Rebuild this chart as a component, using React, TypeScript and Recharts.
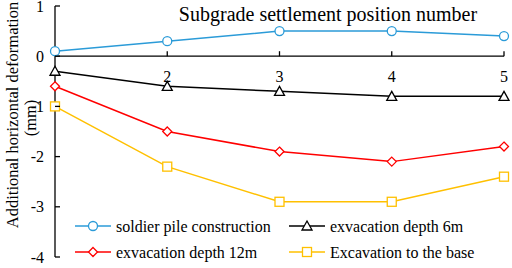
import { Customized, Line, LineChart, ReferenceLine, XAxis, YAxis } from 'recharts'

document.body.style.margin = '0'

const positions = [1, 2, 3, 4, 5]
const soldierPile = [0.1, 0.3, 0.5, 0.5, 0.4]
const depth6 = [-0.3, -0.6, -0.7, -0.8, -0.8]
const depth12 = [-0.6, -1.5, -1.9, -2.1, -1.8]
const toBase = [-1.0, -2.2, -2.9, -2.9, -2.4]
const yTicks = [-4, -3, -2, -1, 0, 1]

const series = [
  { key: 'soldierPile', name: 'soldier pile construction', color: '#2b9bd8', shape: 'circle' },
  { key: 'depth6', name: 'exvacation depth 6m', color: '#000000', shape: 'triangle' },
  { key: 'depth12', name: 'exvacation depth 12m', color: '#ff0000', shape: 'diamond' },
  { key: 'toBase', name: 'Excavation to the base', color: '#ffc000', shape: 'square' },
]

const data = positions.map((pos, i) => ({
  pos,
  soldierPile: soldierPile[i],
  depth6: depth6[i],
  depth12: depth12[i],
  toBase: toBase[i],
}))

const W = 512
const H = 268
const TOP = 6
const BOTTOM = 10
const X_AXIS_H = 1
const AXIS_W = 55
const PLOT_H = H - TOP - BOTTOM - X_AXIS_H
const ZERO_Y = TOP + (1 / 5) * PLOT_H
const FONT = '"Liberation Serif", "Times New Roman", serif'

function Marker({ cx, cy, shape, color }: any) {
  if (cx == null || cy == null) return null
  const common = { fill: '#fff', stroke: color, strokeWidth: 1.3 }
  if (shape === 'circle') return <circle cx={cx} cy={cy} r={4.5} {...common} />
  if (shape === 'triangle')
    return <path d={`M${cx},${cy - 5} L${cx + 5},${cy + 4} L${cx - 5},${cy + 4} Z`} {...common} />
  if (shape === 'diamond')
    return <path d={`M${cx},${cy - 4.5} L${cx + 4.5},${cy} L${cx},${cy + 4.5} L${cx - 4.5},${cy} Z`} {...common} />
  return <rect x={cx - 4.5} y={cy - 4.5} width={9} height={9} {...common} />
}

function XTick({ x, payload }: any) {
  if (payload.value === 1) return <g />
  return (
    <g>
      <line x1={x} x2={x} y1={ZERO_Y} y2={ZERO_Y - 5} stroke='#000' strokeWidth={1.3} />
      <text x={x} y={ZERO_Y + 26} textAnchor='middle' fontSize={16} fontFamily={FONT} fill='#000'>
        {payload.value}
      </text>
    </g>
  )
}

function YTick({ y, payload }: any) {
  return (
    <g>
      <line x1={AXIS_W} x2={AXIS_W + 5} y1={y} y2={y} stroke='#000' strokeWidth={1.3} />
      <text x={44} y={y + 5.5} textAnchor='end' fontSize={16} fontFamily={FONT} fill='#000'>
        {payload.value}
      </text>
    </g>
  )
}

function Decorations() {
  const cols = [75, 289]
  const rows = [226, 252]
  return (
    <g fontFamily={FONT} fill='#000'>
      <text x={328} y={21} textAnchor='middle' fontSize={20}>
        Subgrade settlement position number
      </text>
      <text transform='translate(18,115) rotate(-90)' textAnchor='middle' fontSize={16.5}>
        Additional horizontal deformation
      </text>
      <text transform='translate(36,118) rotate(-90)' textAnchor='middle' fontSize={16.5}>
        (mm)
      </text>
      {series.map((s, i) => {
        const x = cols[i % 2]
        const y = rows[Math.floor(i / 2)]
        return (
          <g key={s.key}>
            <line x1={x} x2={x + 36} y1={y} y2={y} stroke={s.color} strokeWidth={1.5} />
            <Marker cx={x + 18} cy={y} shape={s.shape} color={s.color} />
            <text x={x + 41} y={y + 6} fontSize={16}>
              {s.name}
            </text>
          </g>
        )
      })}
    </g>
  )
}

export default function App() {
  return (
    <LineChart width={W} height={H} data={data} margin={{ top: TOP, right: 8, bottom: BOTTOM, left: 0 }}>
      <XAxis
        type='number'
        dataKey='pos'
        domain={[1, 5]}
        ticks={positions}
        interval={0}
        height={X_AXIS_H}
        axisLine={false}
        tickLine={false}
        tick={<XTick />}
      />
      <YAxis
        domain={[-4, 1]}
        ticks={yTicks}
        interval={0}
        width={AXIS_W}
        axisLine={{ stroke: '#000', strokeWidth: 1.3 }}
        tickLine={false}
        tick={<YTick />}
      />
      <ReferenceLine y={0} stroke='#000' strokeWidth={1.3} />
      {series.map((s) => (
        <Line
          key={s.key}
          dataKey={s.key}
          stroke={s.color}
          strokeWidth={1.5}
          isAnimationActive={false}
          dot={(p: any) => <Marker key={`${s.key}-${p.index}`} cx={p.cx} cy={p.cy} shape={s.shape} color={s.color} />}
          activeDot={false}
        />
      ))}
      <Customized component={Decorations} />
    </LineChart>
  )
}
